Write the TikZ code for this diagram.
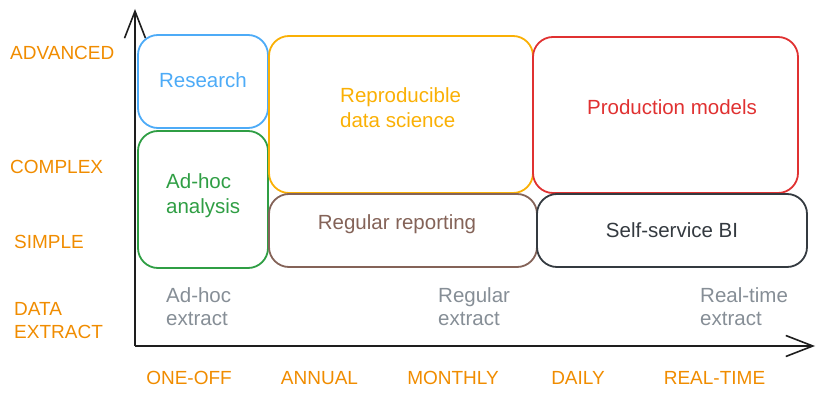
\documentclass[tikz,border=0pt]{standalone}
\usepackage{fontspec}
\setmainfont{Liberation Sans}
\usetikzlibrary{arrows.meta}
\definecolor{axisink}{HTML}{1E1E1E}
\definecolor{tierorange}{HTML}{F08C00}
\definecolor{extractgray}{HTML}{868E96}
\definecolor{resblue}{HTML}{4DABF7}
\definecolor{adhocgreen}{HTML}{2F9E44}
\definecolor{reproamber}{HTML}{FAB005}
\definecolor{prodred}{HTML}{E03131}
\definecolor{reportbrown}{HTML}{846358}
\definecolor{bidark}{HTML}{343A40}
\tikzset{
  zone/.style={draw=#1, line width=1.8pt, rounded corners=20pt, inner sep=0pt},
  zonetext/.style={text=#1, font=\fontsize{20.5}{25}\selectfont, inner sep=0pt},
  tier/.style={text=tierorange, font=\fontsize{19}{23}\selectfont, inner sep=0pt, align=left},
  extract/.style={text=extractgray, font=\fontsize{20.5}{23}\selectfont, inner sep=0pt, align=left, anchor=west},
  axisline/.style={draw=axisink, line width=1.6pt, -{Straight Barb[length=27pt, width=21pt, line width=1.6pt]}}
}
\begin{document}
\begin{tikzpicture}[x=1pt, y=-1pt]
\useasboundingbox (0,0) rectangle (825,401);

% axes
\coordinate (origin) at (135,346);
\coordinate (ytip) at (135,9);
\coordinate (xtip) at (815,346);
\draw[axisline] (origin) -- (ytip);
\draw[axisline] (origin) -- (xtip);

% zones
\node[zone=resblue, minimum width=130pt, minimum height=93pt] (research) at (203,81.5) {};
\node[zone=adhocgreen, minimum width=130pt, minimum height=137pt] (adhoc) at (203,199.5) {};
\node[zone=reproamber, minimum width=264pt, minimum height=157pt] (repro) at (401,114.5) {};
\node[zone=reportbrown, minimum width=268pt, minimum height=73pt] (report) at (403,230.5) {};
\node[zone=prodred, minimum width=265pt, minimum height=156pt] (prod) at (665.5,115) {};
\node[zone=bidark, minimum width=270pt, minimum height=73pt] (bi) at (672,230.5) {};

% zone labels
\node[zonetext=resblue] (researchtxt) at (203,80) {Research};
\node[zonetext=adhocgreen, align=left, anchor=west] (adhoctxt) at (166,196) {Ad-hoc\\analysis};
\node[zonetext=reproamber, align=left, anchor=west] (reprotxt) at (340,107.5) {Reproducible\\data science};
\node[zonetext=prodred] (prodtxt) at (672,107) {Production models};
\node[zonetext=reportbrown] (reporttxt) at (397,224) {Regular reporting};
\node[zonetext=bidark] (bitxt) at (672,230) {Self-service BI};

% extract labels
\node[extract] (adhocext) at (166,306.5) {Ad-hoc\\extract};
\node[extract] (regularext) at (438,306.5) {Regular\\extract};
\node[extract] (realtimeext) at (700,306.5) {Real-time\\extract};

% complexity tiers
\node[tier, anchor=west] (advanced) at (10,53) {ADVANCED};
\node[tier, anchor=west] (complex) at (10,167) {COMPLEX};
\node[tier, anchor=west] (simple) at (14,242) {SIMPLE};
\node[tier, anchor=west] (dataext) at (14,321) {DATA\\EXTRACT};

% frequency tiers
\node[tier] (oneoff) at (189,378) {ONE-OFF};
\node[tier] (annual) at (319.5,378) {ANNUAL};
\node[tier] (monthly) at (453,378) {MONTHLY};
\node[tier] (daily) at (578,378) {DAILY};
\node[tier] (realtime) at (714.5,378) {REAL-TIME};
\end{tikzpicture}
\end{document}
